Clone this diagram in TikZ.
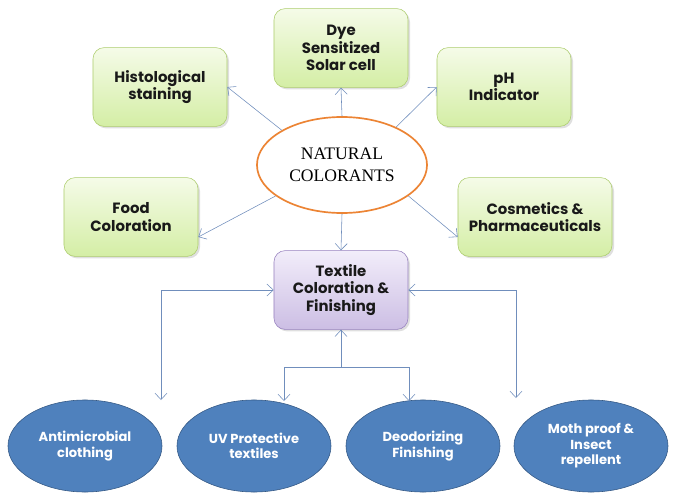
\documentclass[tikz,border=0pt]{standalone}
\usepackage{fontspec}
\newfontfamily\boxfont{Poppins}
\newfontfamily\hubfont{Liberation Serif}
\usetikzlibrary{arrows.meta,positioning,shapes.geometric,shadows,calc}
\definecolor{limetop}{RGB}{245,251,232}
\definecolor{limebot}{RGB}{212,238,165}
\definecolor{limeline}{RGB}{172,204,108}
\definecolor{lilactop}{RGB}{242,237,250}
\definecolor{lilacbot}{RGB}{204,190,228}
\definecolor{lilacline}{RGB}{150,128,190}
\definecolor{tangerine}{RGB}{236,132,52}
\definecolor{steel}{RGB}{79,129,189}
\definecolor{steeldark}{RGB}{52,88,132}
\definecolor{wire}{RGB}{112,142,188}
\definecolor{ink}{RGB}{25,25,25}
\tikzset{
  >={Straight Barb[length=1.6mm,width=3mm]},
  appbox/.style={draw=limeline,top color=limetop,bottom color=limebot,
    rounded corners=8pt,minimum width=3.35cm,minimum height=1.97cm,
    align=center,text=ink,font=\boxfont\bfseries\fontsize{10.6}{12.4}\selectfont,
    drop shadow={opacity=0.25,shadow xshift=0.5mm,shadow yshift=-0.5mm}},
  corebox/.style={appbox,draw=lilacline,top color=lilactop,bottom color=lilacbot},
  hub/.style={ellipse,draw=tangerine,line width=1.2pt,fill=white,
    minimum width=4.25cm,minimum height=2.4cm,align=center,
    font=\hubfont\fontsize{12.5}{16}\selectfont},
  use/.style={ellipse,draw=steeldark,fill=steel,text=white,
    minimum width=3.85cm,minimum height=2.3cm,align=center,
    font=\boxfont\bfseries\fontsize{9.3}{11}\selectfont},
  link/.style={draw=wire,thin},
}
\begin{document}
\begin{tikzpicture}[x=0.025cm,y=-0.025cm]
  \useasboundingbox (0,0) rectangle (687,494);
  % centre and the applications round it
  \node[hub] (hub) at (342,165) {NATURAL\\COLORANTS};
  \node[appbox] (dye) at (341,48) {Dye\\Sensitized\\Solar cell};
  \node[appbox] (hist) at (160,87) {Histological\\staining};
  \node[appbox] (ph) at (504,87) {pH\\Indicator};
  \node[appbox] (food) at (131,217) {Food\\Coloration};
  \node[appbox,minimum width=3.85cm] (cosm) at (535,217) {Cosmetics \&\\Pharmaceuticals};
  \node[corebox] (tex) at (341,290) {Textile\\Coloration \&\\Finishing};
  \draw[link,->] (hub.north) -- (dye.south);
  \draw[link,->] (hub.150) -- (hist.east);
  \draw[link,->] (hub.35) -- (ph.west);
  \draw[link,->] (hub.205) -- ($(food.east)+(0,20)$);
  \draw[link,->] (hub.-25) -- ($(cosm.west)+(0,20)$);
  \draw[link,->] (hub.south) -- (tex.north);
  % textile finishes
  \node[use] (anti) at (85,446) {Antimicrobial\\clothing};
  \node[use] (uv) at (254,446) {UV Protective\\textiles};
  \node[use] (deo) at (423,446) {Deodorizing\\Finishing};
  \node[use] (moth) at (591,446) {Moth proof \&\\Insect\\repellent};
  \coordinate (antitip) at (161,400);
  \coordinate (mothtip) at (516,398);
  \coordinate (uvtip) at (284,401);
  \coordinate (deotip) at (409,401);
  \coordinate (fork) at (341,367);
  \draw[link,<->] (tex.west) -| (antitip);
  \draw[link,<->] (tex.east) -| (mothtip);
  \draw[link,->] (fork) -- (tex.south);
  \draw[link,->] (fork) -| (uvtip);
  \draw[link,->] (fork) -| (deotip);
\end{tikzpicture}
\end{document}
